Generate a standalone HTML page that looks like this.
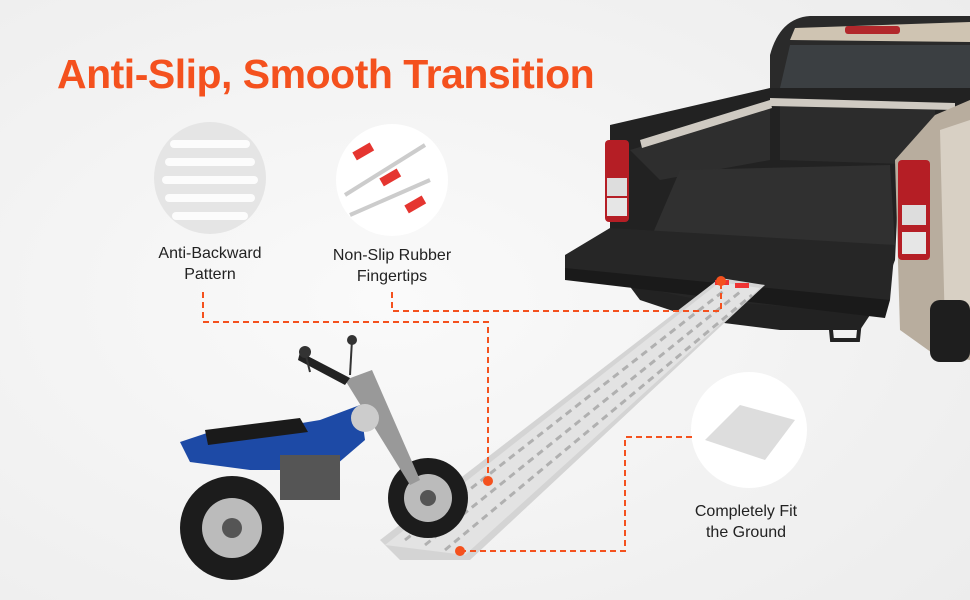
<!DOCTYPE html>
<html><head><meta charset="utf-8"><style>
html,body{margin:0;padding:0}
body{width:970px;height:600px;overflow:hidden;background:#f2f2f2;font-family:"Liberation Sans",sans-serif;position:relative}
.t{position:absolute;left:57px;top:51px;font-size:41px;font-weight:bold;color:#f4511e;letter-spacing:-0.5px}
.l{position:absolute;font-size:16px;color:#222;text-align:center;line-height:21px}
</style></head><body>
<svg width="970" height="600" style="position:absolute;left:0;top:0">
<defs>
<radialGradient id="bg" cx="0.4" cy="0.5" r="0.8"><stop offset="0" stop-color="#fafafa"/><stop offset="1" stop-color="#ececec"/></radialGradient>
</defs>
<rect width="970" height="600" fill="url(#bg)"/>
<!-- truck -->
<path d="M770 55 Q780 18 810 16 L970 16 L970 100 L770 100 Z" fill="#2a2a2a"/>
<path d="M795 28 L970 22 L970 42 L790 40 Z" fill="#cfc4b2"/>
<rect x="845" y="26" width="55" height="8" rx="3" fill="#b2282c"/>
<path d="M790 45 L970 45 L970 88 L780 88 Z" fill="#3b3f42"/>
<path d="M610 125 L770 88 L970 88 L970 130 L940 150 L900 155 L895 260 L880 300 L860 330 L780 330 L700 320 L640 300 L610 260 Z" fill="#222"/>
<path d="M630 150 L770 108 L770 160 L660 180 Z" fill="#2e2e2e"/>
<path d="M780 105 L935 110 L935 165 L780 160 Z" fill="#2c2c2c"/>
<path d="M680 170 L890 165 L895 245 L650 240 Z" fill="#303030"/>
<path d="M640 140 L770 100 L772 108 L642 148 Z" fill="#cfcac2"/>
<path d="M770 98 L955 103 L955 110 L770 106 Z" fill="#cfcac2"/>
<path d="M935 115 L970 100 L970 360 L935 355 L900 330 L895 160 Z" fill="#b8ad9e"/>
<path d="M940 130 L970 120 L970 330 L945 330 Z" fill="#d8d0c4"/>
<rect x="930" y="300" width="40" height="62" rx="10" fill="#1e1e1e"/>
<rect x="898" y="160" width="32" height="100" rx="4" fill="#b51e25"/>
<rect x="902" y="205" width="24" height="20" fill="#ddd"/>
<rect x="902" y="232" width="24" height="22" fill="#e6e6e6"/>
<rect x="605" y="140" width="24" height="82" rx="4" fill="#b51e25"/>
<rect x="607" y="178" width="20" height="18" fill="#ddd"/>
<rect x="607" y="198" width="20" height="18" fill="#e6e6e6"/>
<path d="M565 255 L610 228 L895 245 L890 300 L860 312 L700 300 L565 272 Z" fill="#262626"/>
<path d="M565 268 L890 300 L885 318 L565 280 Z" fill="#1a1a1a"/>
<path d="M830 320 L860 320 L858 340 L832 340 Z" fill="none" stroke="#222" stroke-width="4"/>
<!-- ramp -->
<path d="M380 540 L720 278 L765 285 L470 560 L400 560 Z" fill="#d4d4d4"/>
<path d="M385 545 L720 282 L760 288 L465 555 Z" fill="#e3e3e3"/>
<g stroke="#b0b0b0" stroke-width="3" stroke-dasharray="7 5">
<line x1="405" y1="540" x2="725" y2="290"/><line x1="425" y1="545" x2="740" y2="292"/><line x1="445" y1="550" x2="752" y2="295"/>
</g>
<rect x="715" y="280" width="14" height="5" fill="#e33"/><rect x="735" y="283" width="14" height="5" fill="#e33"/>
<!-- motorcycle -->
<circle cx="232" cy="528" r="52" fill="#1c1c1c"/><circle cx="232" cy="528" r="30" fill="#bbb"/><circle cx="232" cy="528" r="10" fill="#555"/>
<circle cx="428" cy="498" r="40" fill="#1c1c1c"/><circle cx="428" cy="498" r="24" fill="#bbb"/><circle cx="428" cy="498" r="8" fill="#555"/>
<path d="M180 442 L210 432 L260 430 L320 420 L360 405 L365 440 L330 470 L250 470 L190 462 Z" fill="#1d4aa6"/>
<path d="M205 430 L300 418 L308 432 L208 445 Z" fill="#1a1a1a"/>
<rect x="280" y="455" width="60" height="45" fill="#555"/>
<path d="M345 380 L372 370 L420 480 L410 485 Z" fill="#999"/>
<path d="M300 352 L350 378 L345 385 L298 360 Z" fill="#222"/>
<line x1="305" y1="352" x2="310" y2="372" stroke="#333" stroke-width="2"/>
<line x1="352" y1="340" x2="350" y2="375" stroke="#333" stroke-width="2"/>
<circle cx="305" cy="352" r="6" fill="#333"/><circle cx="352" cy="340" r="5" fill="#333"/>
<circle cx="365" cy="418" r="14" fill="#ccc"/>
</svg>
<svg width="970" height="600" style="position:absolute;left:0;top:0">
<circle cx="210" cy="178" r="56" fill="#e5e5e5"/>
<g fill="#fff" opacity="0.9">
<rect x="170" y="140" width="80" height="8" rx="4"/><rect x="165" y="158" width="90" height="8" rx="4"/><rect x="162" y="176" width="96" height="8" rx="4"/><rect x="165" y="194" width="90" height="8" rx="4"/><rect x="172" y="212" width="76" height="8" rx="4"/>
</g>
<circle cx="392" cy="180" r="56" fill="#fff"/>
<g stroke="#ccc" stroke-width="4"><line x1="345" y1="195" x2="425" y2="145"/><line x1="350" y1="215" x2="430" y2="180"/></g>
<rect x="353" y="147" width="20" height="9" fill="#e53530" transform="rotate(-30 363 151)"/>
<rect x="380" y="173" width="20" height="9" fill="#e53530" transform="rotate(-30 390 177)"/>
<rect x="405" y="200" width="20" height="9" fill="#e53530" transform="rotate(-30 415 204)"/>
<circle cx="749" cy="430" r="58" fill="#fff"/>
<path d="M705 440 L740 405 L795 420 L765 460 Z" fill="#ddd"/>
<g fill="none" stroke="#f4511e" stroke-width="2" stroke-dasharray="6 4">
<polyline points="203,292 203,322 488,322 488,480"/>
<polyline points="392,292 392,311 721,311 721,283"/>
<polyline points="692,437 625,437 625,551 461,551"/>
</g>
<g fill="#f4511e"><circle cx="488" cy="481" r="5"/><circle cx="721" cy="281" r="5"/><circle cx="460" cy="551" r="5"/></g>
</svg>
<div class="t">Anti-Slip, Smooth Transition</div>
<div class="l" style="left:140px;top:243px;width:140px">Anti-Backward<br>Pattern</div>
<div class="l" style="left:312px;top:245px;width:160px">Non-Slip Rubber<br>Fingertips</div>
<div class="l" style="left:676px;top:501px;width:140px">Completely Fit<br>the Ground</div>
</body></html>
